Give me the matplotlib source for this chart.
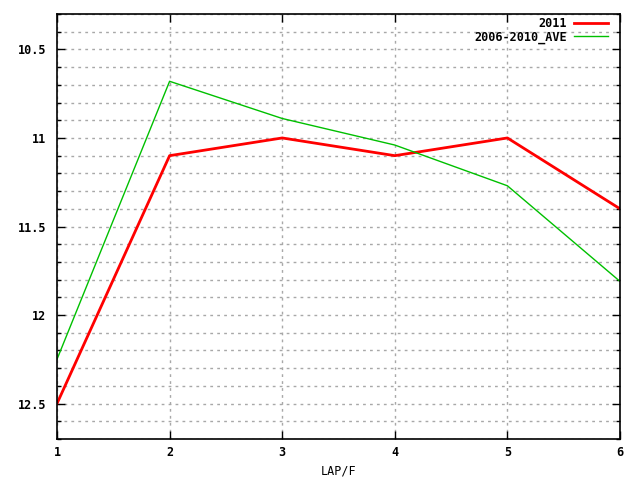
import matplotlib
matplotlib.use('Agg')
import matplotlib.pyplot as plt
import numpy as np
from matplotlib.ticker import MultipleLocator

laps = [1, 2, 3, 4, 5, 6]
y2011 = [12.5, 11.1, 11.0, 11.1, 11.0, 11.4]
yave = [12.25, 10.68, 10.89, 11.04, 11.27, 11.81]

plt.rcParams['font.family'] = ['DejaVu Sans Mono']
plt.rcParams['font.weight'] = 'bold'
plt.rcParams['font.size'] = 8.5

fig = plt.figure(figsize=(6.4, 4.8), dpi=100)
ax = fig.add_axes([57/640, 1-439/480, (620-57)/640, (439-14)/480])

ax.plot(laps, y2011, c='#ff0000', lw=2, label='2011')
ax.plot(laps, yave, c='#00c000', lw=1, label='2006-2010_AVE')

ax.set_xlim(1, 6)
ax.set_ylim(12.7, 10.3)
ax.set_xticks(laps)
ax.set_yticks([10.5, 11, 11.5, 12, 12.5])
ax.set_yticklabels(['10.5', '11', '11.5', '12', '12.5'])
ax.yaxis.set_minor_locator(MultipleLocator(0.1))

ax.tick_params(which='both', direction='in', top=True, right=True, width=1)
ax.tick_params(which='major', length=6)
ax.tick_params(axis='y', which='major', pad=8)
ax.tick_params(axis='x', which='major', pad=5)
ax.tick_params(which='minor', length=3)
ax.grid(True, which='major', axis='x', ls=(0, (2, 3)), c='#a8a8a8', lw=1)
ax.grid(True, which='both', axis='y', ls=(0, (2, 3)), c='#a8a8a8', lw=1)
for s in ax.spines.values():
    s.set_linewidth(1.2)

ax.set_xlabel('LAP/F', labelpad=4)
ax.legend(loc='upper right', bbox_to_anchor=(0.992, 1.01), frameon=False,
          markerfirst=False, handlelength=2.9, borderaxespad=0.2,
          labelspacing=0.05, handletextpad=0.6)

fig.savefig('out.png', dpi=100)
